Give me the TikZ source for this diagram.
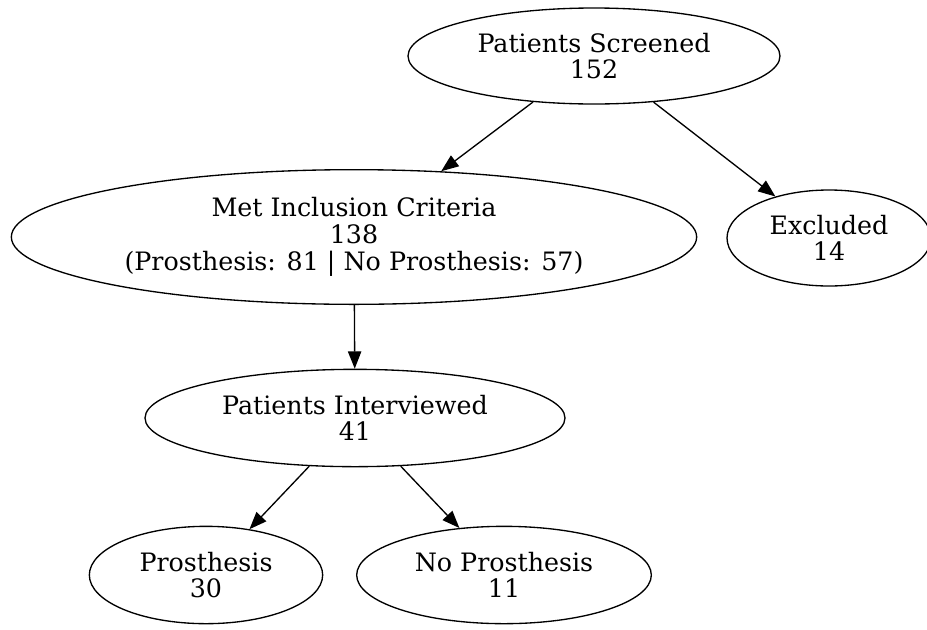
\documentclass[tikz,border=0pt]{standalone}
\usepackage{fontspec}
\setmainfont{DejaVu Serif}
\usetikzlibrary{arrows.meta, shapes.geometric}

\tikzset{
    caja/.style={draw, ellipse, line width=1pt, inner sep=0pt, align=center, font=\fontsize{19}{20}\selectfont},
    flecha/.style={draw, line width=1pt, -{Triangle[length=13pt, width=10pt]}}
}

\begin{document}
\begin{tikzpicture}[x=0.75pt, y=-0.75pt]
        % Marco de la imagen
        \useasboundingbox (0,0) rectangle (927,629);
        % Nodos
        \node[caja, minimum width=279pt, minimum height=72pt] (screened) at (594,56) {Patients Screened\\152};
        \node[caja, minimum width=514pt, minimum height=101pt] (met) at (354,237) {Met Inclusion Criteria\\138\\(Prosthesis: 81 | No Prosthesis: 57)};
        \node[caja, minimum width=153pt, minimum height=72pt] (excluded) at (829,238) {Excluded\\14};
        \node[caja, minimum width=315pt, minimum height=73pt] (interviewed) at (355,418) {Patients Interviewed\\41};
        \node[caja, minimum width=175pt, minimum height=73pt] (prosthesis) at (206,575) {Prosthesis\\30};
        \node[caja, minimum width=221pt, minimum height=73pt] (noprosthesis) at (504,575) {No Prosthesis\\11};
        % Flechas
        \draw[flecha] (screened) -- (met);
        \draw[flecha] (screened) -- (excluded);
        \draw[flecha] (met) -- (interviewed);
        \draw[flecha] (interviewed) -- (prosthesis);
        \draw[flecha] (interviewed) -- (noprosthesis);
    \end{tikzpicture}
\end{document}
